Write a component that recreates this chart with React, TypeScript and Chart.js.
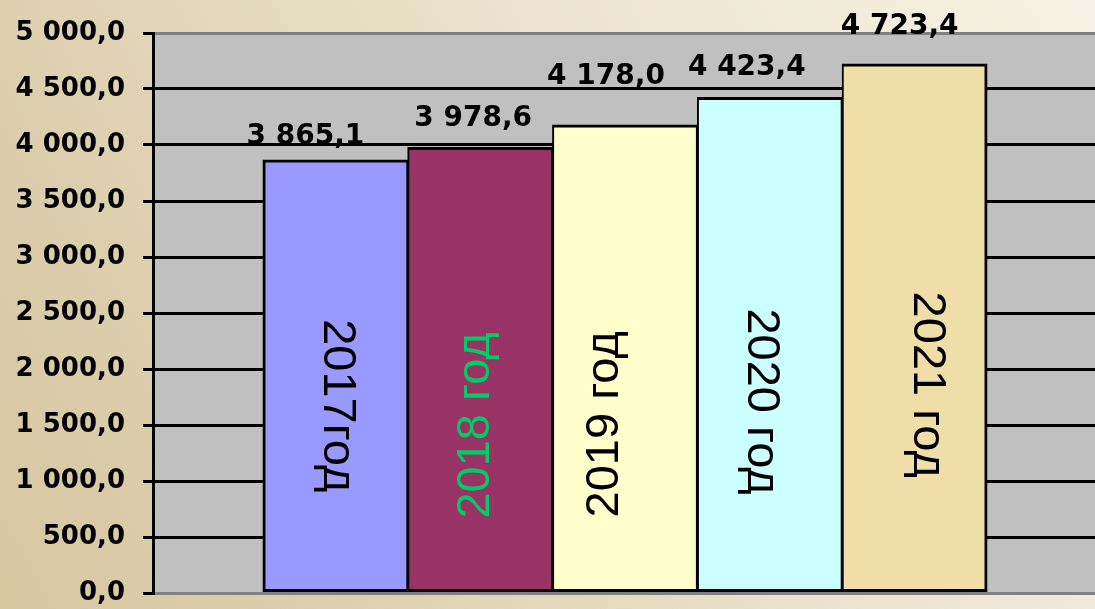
import React, { useEffect, useRef } from "react";
import { Chart, registerables } from "chart.js";

Chart.register(...registerables);

// ---- data ----
const CATEGORIES = ["2017год", "2018 год", "2019 год", "2020 год", "2021 год"];
const VALUES = [3865.1, 3978.6, 4178.0, 4423.4, 4723.4];
const Y_MIN = 0;
const Y_MAX = 5000;
const Y_STEP = 500;

// ---- style ----
const BAR_COLORS = ["#9999FF", "#993366", "#FFFFCC", "#CCFFFF", "#F0DEA8"];
const INSIDE_TEXT_COLORS = ["#000000", "#00CC66", "#000000", "#000000", "#000000"];
const INSIDE_TEXT_ROTATION = [90, -90, -90, 90, 90];
// pixel shifts of the in-bar captions, relative to the bar middle
const INSIDE_TEXT_SHIFT = [
  [2, 30],
  [-4, 56],
  [-20, 66],
  [-9, 57],
  [12, 57],
];
// pixel shifts of the value captions: [dx from bar centre, gap above bar top]
const VALUE_LABEL_SHIFT = [
  [-30, 16],
  [-7, 21],
  [-19, 41],
  [-23, 23],
  [-15, 30],
];

function fmt(v: number): string {
  const [i, d] = v.toFixed(1).split(".");
  return i.replace(/\B(?=(\d{3})+(?!\d))/g, " ") + "," + d;
}

const decorPlugin = {
  id: "decor",
  beforeDraw(chart: any) {
    const { ctx, width, height, chartArea } = chart;
    ctx.save();
    const g = ctx.createLinearGradient(0, height, width, 0);
    g.addColorStop(0, "#D6C7A1");
    g.addColorStop(0.2, "#DBCEAC");
    g.addColorStop(0.6, "#ECE4CF");
    g.addColorStop(1, "#F6F1E4");
    ctx.fillStyle = g;
    ctx.fillRect(0, 0, width, height);
    ctx.fillStyle = "#C0C0C0";
    ctx.fillRect(
      chartArea.left,
      chartArea.top,
      chartArea.right - chartArea.left,
      chartArea.bottom - chartArea.top
    );
    ctx.restore();
  },
  afterDatasetsDraw(chart: any) {
    const { ctx } = chart;
    chart.data.datasets.forEach((ds: any, i: number) => {
      const meta = chart.getDatasetMeta(i);
      const bar: any = meta.data[0];
      if (!bar) return;
      const { x, y, base } = bar.getProps(["x", "y", "base"], true);
      // value label above bar
      ctx.save();
      ctx.font = "bold 28px 'DejaVu Sans'";
      ctx.fillStyle = "#000";
      ctx.textAlign = "center";
      ctx.textBaseline = "alphabetic";
      const [vdx, vdy] = VALUE_LABEL_SHIFT[i];
      ctx.fillText(fmt(ds.data[0]), x + vdx, y - vdy);
      ctx.restore();
      // rotated caption inside bar
      ctx.save();
      const [dx, dy] = INSIDE_TEXT_SHIFT[i];
      ctx.translate(x + dx, (y + base) / 2 + dy);
      ctx.rotate((INSIDE_TEXT_ROTATION[i] * Math.PI) / 180);
      ctx.font = "47px 'Liberation Sans'";
      ctx.fillStyle = INSIDE_TEXT_COLORS[i];
      ctx.textAlign = "center";
      ctx.textBaseline = "middle";
      ctx.fillText(ds.label, 0, 0);
      ctx.restore();
    });
  },
};

export default function App() {
  const canvasRef = useRef<HTMLCanvasElement | null>(null);

  useEffect(() => {
    document.body.style.margin = "0";
    const canvas = canvasRef.current;
    if (!canvas) return;
    const n = CATEGORIES.length;
    const chart = new Chart(canvas, {
      type: "bar",
      data: {
        labels: [""],
        datasets: CATEGORIES.map((c, i) => ({
          label: c,
          data: [VALUES[i]],
          backgroundColor: BAR_COLORS[i],
          borderColor: "#000000",
          borderWidth: {
            top: 3,
            bottom: 3,
            left: i === 0 ? 3 : 2,
            right: i === n - 1 ? 3 : 2,
          },
          borderSkipped: false,
          inflateAmount: 0.5,
          barPercentage: 1,
          categoryPercentage: 0.767,
        })),
      },
      options: {
        animation: false,
        responsive: false,
        devicePixelRatio: 1,
        layout: { padding: { left: 0, top: 33, right: 3, bottom: 16 } },
        plugins: {
          legend: { display: false },
          tooltip: { enabled: false },
        },
        scales: {
          x: { display: false },
          y: {
            min: Y_MIN,
            max: Y_MAX,
            afterFit: (scale: any) => {
              scale.width = 153;
              scale.paddingTop = 0;
              scale.paddingBottom = 0;
            },
            ticks: {
              stepSize: Y_STEP,
              padding: 18,
              color: "#000",
              font: { family: "'DejaVu Sans'", weight: "bold", size: 26 },
              callback: (v: any) => fmt(Number(v)),
            },
            grid: {
              color: (ctx: any) =>
                ctx.tick && (ctx.tick.value === Y_MIN || ctx.tick.value === Y_MAX)
                  ? "#808080"
                  : "#000000",
              lineWidth: 3,
              tickColor: "#000000",
              tickWidth: 3,
              tickLength: 10,
            },
            border: { display: true, color: "#000000", width: 3 },
          },
        },
      },
      plugins: [decorPlugin],
    } as any);
    return () => chart.destroy();
  }, []);

  return (
    <div style={{ width: 1095, height: 609, overflow: "hidden", position: "relative" }}>
      <canvas ref={canvasRef} width={1100} height={609} style={{ display: "block" }} />
    </div>
  );
}
